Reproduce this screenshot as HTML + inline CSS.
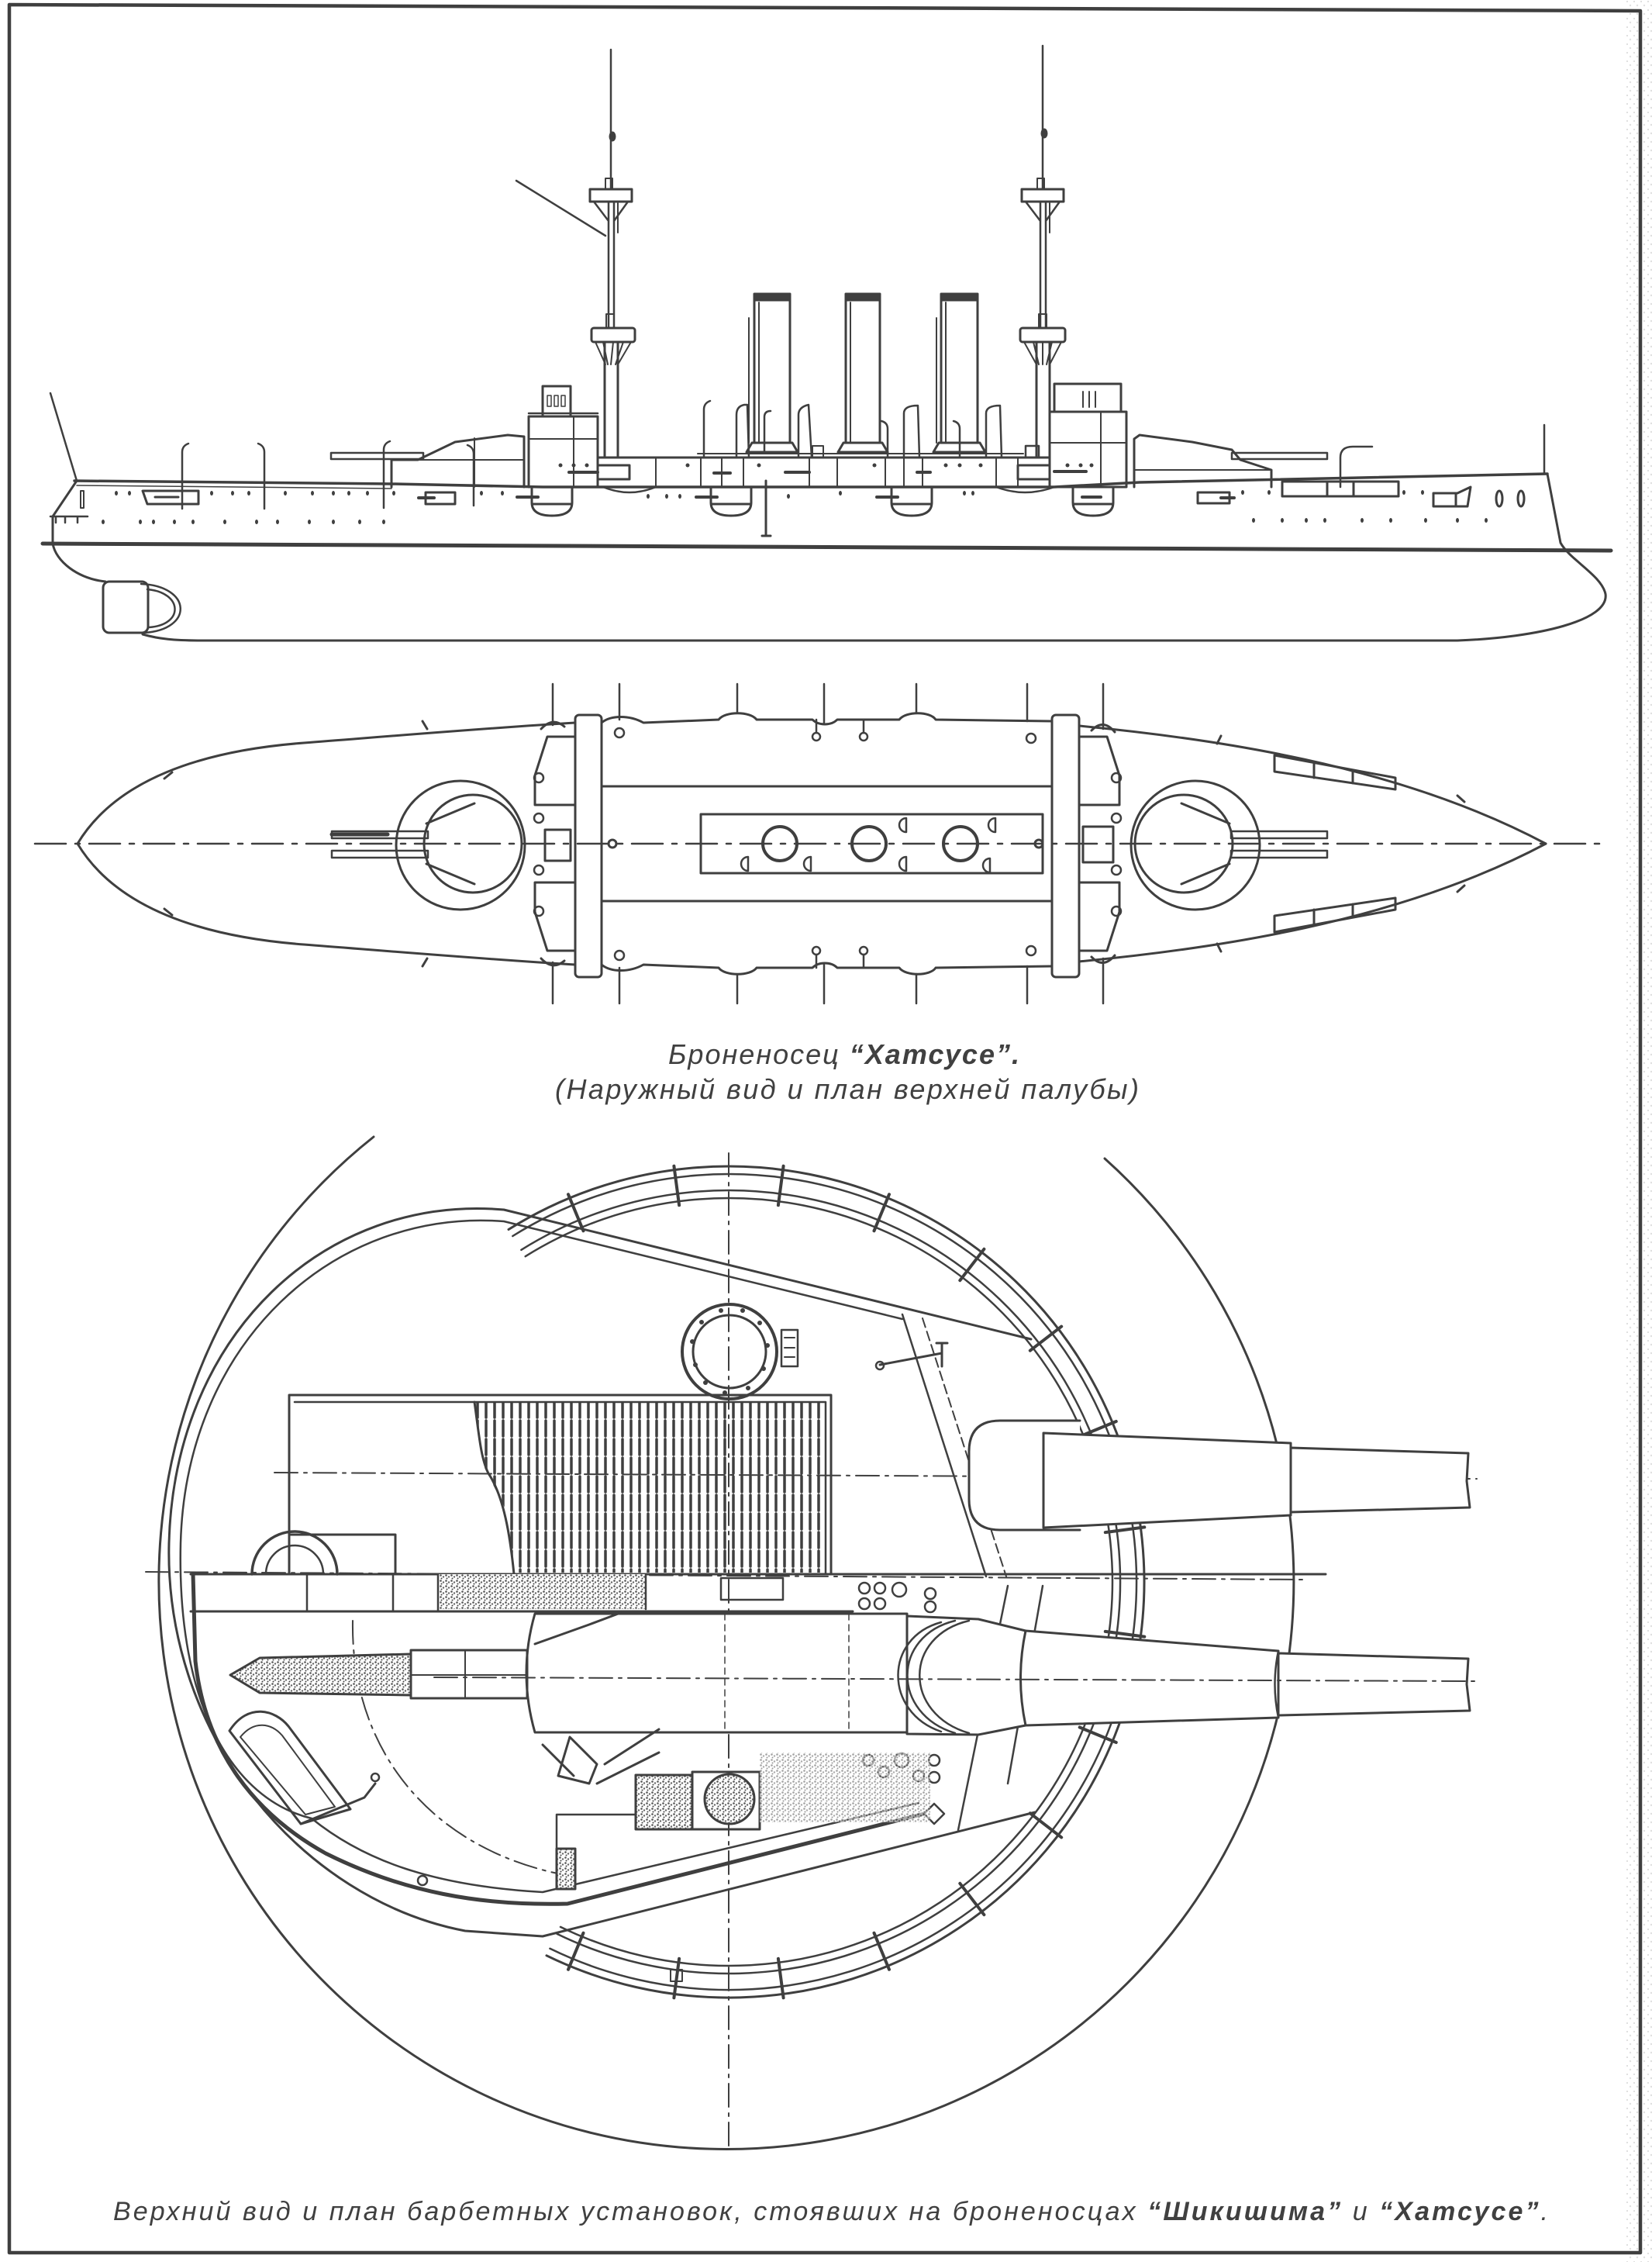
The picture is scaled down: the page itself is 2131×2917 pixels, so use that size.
<!DOCTYPE html>
<html><head><meta charset="utf-8">
<style>
html,body{margin:0;padding:0;background:#fff;}
svg{display:block;}
text{font-family:"Liberation Sans",Arial,sans-serif;font-style:italic;fill:#404040;}
</style></head><body>
<svg width="2131" height="2917" viewBox="0 0 2131 2917" xmlns="http://www.w3.org/2000/svg">
<defs>
 <pattern id="speck" width="7" height="7" patternUnits="userSpaceOnUse">
   <rect width="7" height="7" fill="#fff"/>
   <circle cx="1.5" cy="1.5" r="1.3" fill="#555"/>
   <circle cx="5" cy="3.5" r="1.2" fill="#666"/>
   <circle cx="2.5" cy="5.5" r="1" fill="#444"/>
 </pattern>
 <pattern id="noise" width="9" height="11" patternUnits="userSpaceOnUse">
   <rect width="9" height="11" fill="#fff"/>
   <circle cx="2" cy="2" r="1" fill="#bbb"/>
   <circle cx="6" cy="7" r="1.2" fill="#ccc"/>
 </pattern>
 <clipPath id="hatchclip">
   <polygon points="612,1808 1066,1808 1066,2028 663,2028 654,1950 622,1887"/>
 </clipPath>
</defs>
<rect width="2131" height="2917" fill="#fff"/>
<rect x="2096" y="0" width="35" height="2917" fill="url(#noise)" opacity="0.6"/>

<g fill="none" stroke="#3f3f3f" stroke-width="3" stroke-linejoin="round" stroke-linecap="round">
<!-- frame -->
<path d="M12,6 L2116,14 L2116,2905 L12,2905 Z" stroke-width="4.5"/>

<!-- ================= SIDE VIEW ================= -->
<path d="M788,64 L788,244 M1345,59 L1345,244" stroke-width="2.5"/>
<rect x="761" y="244" width="54" height="16"/>
<rect x="781" y="230" width="9" height="14" stroke-width="2"/>
<rect x="1318" y="244" width="54" height="16"/>
<rect x="1338" y="230" width="9" height="14" stroke-width="2"/>
<path d="M766,260 L785,285 M810,260 L792,285 M785,260 L785,423 M792,260 L792,423" stroke-width="2.5"/>
<path d="M1323,260 L1342,285 M1367,260 L1349,285 M1342,260 L1342,423 M1349,260 L1349,423" stroke-width="2.5"/>
<path d="M797,262 L797,300 M1354,262 L1354,300" stroke-width="2"/>
<rect x="763" y="423" width="56" height="18" rx="3"/>
<rect x="1316" y="423" width="58" height="18" rx="3"/>
<path d="M768,441 L781,470 M778,441 L784,470 M791,441 L788,470 M804,441 L794,470 M814,441 L797,470" stroke-width="2"/>
<path d="M1321,441 L1337,470 M1333,441 L1340,470 M1345,441 L1345,470 M1357,441 L1350,470 M1369,441 L1354,470" stroke-width="2"/>
<path d="M780,441 L780,590 M797,441 L797,590 M1337,441 L1337,590 M1354,441 L1354,590"/>
<path d="M666,233 L781,304" stroke-width="2.5"/>
<ellipse cx="790" cy="176" rx="3" ry="5" fill="#3f3f3f"/>
<ellipse cx="1347" cy="172" rx="3" ry="5" fill="#3f3f3f"/>
<rect x="782" y="405" width="10" height="18" stroke-width="2"/>
<rect x="1340" y="405" width="10" height="18" stroke-width="2"/>

<!-- funnels -->
<rect x="973" y="383" width="46" height="188"/>
<rect x="973" y="379" width="46" height="8" fill="#3f3f3f"/>
<path d="M963,583 L1029,583 L1022,571 L970,571 Z"/>
<path d="M966,410 L966,571 M979,390 L979,571" stroke-width="2"/>
<rect x="1091" y="383" width="44" height="188"/>
<rect x="1091" y="379" width="44" height="8" fill="#3f3f3f"/>
<path d="M1081,583 L1145,583 L1138,571 L1088,571 Z"/>
<path d="M1097,390 L1097,571" stroke-width="2"/>
<rect x="1214" y="383" width="47" height="188"/>
<rect x="1214" y="379" width="47" height="8" fill="#3f3f3f"/>
<path d="M1204,583 L1271,583 L1264,571 L1211,571 Z"/>
<path d="M1208,410 L1208,571 M1220,390 L1220,571" stroke-width="2"/>
<rect x="1048" y="575" width="14" height="15" stroke-width="2"/>

<!-- cowls / ventilators -->
<path stroke-width="2.5" d="
M235,656 L235,583 Q235,575 243,572
M341,656 L341,583 Q341,575 333,572
M495,655 L495,580 Q495,572 503,569
M611,652 L611,585 Q611,577 603,574
M908,590 L908,528 Q908,520 916,517
M950,590 L950,535 Q950,524 960,522 L964,522 L966,590
M986,583 L986,538 Q986,530 994,530
M1030,590 L1030,535 Q1030,525 1043,522 L1047,590
M1145,590 L1145,553 Q1145,545 1137,543
M1166,590 L1166,533 Q1166,523 1184,523 L1186,590
M1238,590 L1238,553 Q1238,545 1230,543
M1272,590 L1272,533 Q1272,523 1290,523 L1292,590
M1729,628 L1729,590 Q1729,576 1745,576 L1770,576
M1323,590 L1323,575 L1340,575 L1340,590"/>

<!-- superstructure -->
<rect x="771" y="590" width="583" height="38"/>
<path d="M900,585 L1320,585" stroke-width="2"/>
<path d="M846,590 V628 M904,590 V628 M931,590 V628 M959,590 V628 M1044,590 V628 M1080,590 V628 M1142,590 V628 M1166,590 V628 M1190,590 V628 M1285,590 V628 M1313,590 V628" stroke-width="2"/>
<rect x="682" y="537" width="89" height="91"/>
<path d="M682,566 L771,566" stroke-width="2"/>
<path d="M740,537 V628" stroke-width="2"/>
<rect x="700" y="498" width="36" height="39"/>
<rect x="706" y="510" width="5" height="14" stroke-width="1.5"/>
<rect x="715" y="510" width="5" height="14" stroke-width="1.5"/>
<rect x="724" y="510" width="5" height="14" stroke-width="1.5"/>
<path d="M682,533 L771,533" stroke-width="2.5"/>
<rect x="771" y="600" width="41" height="18"/>
<path d="M734,609 L771,609" stroke-width="4"/>
<rect x="1354" y="531" width="99" height="97"/>
<path d="M1354,571 L1453,571 M1420,531 V628" stroke-width="2"/>
<rect x="1360" y="495" width="86" height="36"/>
<path d="M1397,505 V525 M1405,505 V525 M1413,505 V525" stroke-width="2"/>
<rect x="1313" y="600" width="41" height="18"/>
<path d="M1360,608 L1401,608" stroke-width="4"/>
<path d="M921,610 L942,610 M1013,609 L1044,609 M1183,609 L1200,609" stroke-width="4"/>

<!-- turrets (side) -->
<path d="M505,628 L505,593 L539,593 L587,570 L655,561 L676,563 L676,628"/>
<path d="M539,593 L676,593 M612,565 L612,628" stroke-width="2"/>
<rect x="427" y="584" width="119" height="8" stroke-width="2.5"/>
<path d="M1463,628 L1463,566 L1470,561 L1538,570 L1589,580 L1600,593 L1640,606 L1640,628"/>
<path d="M1463,606 L1640,606" stroke-width="2"/>
<rect x="1589" y="584" width="123" height="8" stroke-width="2.5"/>

<!-- hull -->
<path d="M96,620 L505,624 L700,628 L1360,628 L1470,622 L1996,611" stroke-width="3.5"/>
<path d="M99,626 L505,630" stroke-width="1.5"/>
<path d="M99,620 L68,666 L68,701 C72,724 100,746 136,750"/>
<rect x="133" y="750" width="58" height="66" rx="8"/>
<path d="M182,753 C248,756 250,812 186,816 M190,760 C236,764 238,806 192,809" stroke-width="2.5"/>
<path d="M184,818 C205,824 225,826 260,826 L1880,826 C1985,822 2076,800 2071,766 C2066,742 2025,722 2013,700 L1996,611"/>
<path d="M55,701 L2078,710" stroke-width="5"/>
<path d="M99,620 L65,507" stroke-width="2.5"/>
<path d="M1992,611 L1992,548" stroke-width="2.5"/>

<!-- sponsons -->
<path d="M686,630 L686,648 Q686,665 712,665 Q738,665 738,648 L738,630 M688,650 L736,650"/>
<path d="M917,630 L917,648 Q917,665 943,665 Q969,665 969,648 L969,630 M919,650 L967,650"/>
<path d="M1150,630 L1150,648 Q1150,665 1176,665 Q1202,665 1202,648 L1202,630 M1152,650 L1200,650"/>
<path d="M1384,630 L1384,648 Q1384,665 1410,665 Q1436,665 1436,648 L1436,630 M1386,650 L1434,650"/>
<path d="M667,641 L694,641 M898,641 L925,641 M1131,641 L1158,641 M1396,641 L1420,641" stroke-width="4"/>
<path d="M778,628 Q812,642 846,628 M1285,628 Q1322,642 1360,628" stroke-width="2.5"/>
<path d="M988,620 L988,691 M983,691 L994,691" stroke-width="3"/>

<!-- hull ports -->
<path d="M184,633 L256,633 L256,650 L190,650 Z M200,641 L230,641"/>
<rect x="549" y="635" width="38" height="15"/>
<path d="M540,642 L560,642" stroke-width="4"/>
<rect x="1545" y="635" width="41" height="14"/>
<path d="M1575,642 L1592,642" stroke-width="4"/>
<path d="M1849,636 L1880,636 L1897,628 L1893,653 L1849,653 Z M1878,636 L1878,653"/>
<rect x="1654" y="621" width="150" height="19"/>
<path d="M1712,621 V640 M1746,621 V640"/>
<ellipse cx="1934" cy="643" rx="4" ry="10"/>
<ellipse cx="1962" cy="643" rx="4" ry="10"/>
<rect x="104" y="633" width="4" height="22" stroke-width="2"/>
<path d="M65,666 L113,666 M72,666 V674 M84,666 V674 M100,666 V674" stroke-width="2.5"/>
</g>

<!-- portholes -->
<g fill="#3f3f3f">
<ellipse cx="150" cy="636" rx="2" ry="3"/><ellipse cx="167" cy="636" rx="2" ry="3"/><ellipse cx="273" cy="636" rx="2" ry="3"/><ellipse cx="300" cy="636" rx="2" ry="3"/><ellipse cx="321" cy="636" rx="2" ry="3"/><ellipse cx="368" cy="636" rx="2" ry="3"/><ellipse cx="403" cy="636" rx="2" ry="3"/><ellipse cx="430" cy="636" rx="2" ry="3"/><ellipse cx="450" cy="636" rx="2" ry="3"/><ellipse cx="474" cy="636" rx="2" ry="3"/><ellipse cx="508" cy="636" rx="2" ry="3"/><ellipse cx="621" cy="636" rx="2" ry="3"/><ellipse cx="648" cy="636" rx="2" ry="3"/><ellipse cx="836" cy="640" rx="2" ry="3"/><ellipse cx="860" cy="640" rx="2" ry="3"/><ellipse cx="877" cy="640" rx="2" ry="3"/><ellipse cx="1017" cy="640" rx="2" ry="3"/><ellipse cx="1084" cy="636" rx="2" ry="3"/><ellipse cx="1244" cy="636" rx="2" ry="3"/><ellipse cx="1255" cy="636" rx="2" ry="3"/><ellipse cx="1603" cy="635" rx="2" ry="3"/><ellipse cx="1637" cy="635" rx="2" ry="3"/><ellipse cx="1811" cy="635" rx="2" ry="3"/><ellipse cx="1835" cy="635" rx="2" ry="3"/>
<ellipse cx="133" cy="673" rx="2" ry="3"/><ellipse cx="181" cy="673" rx="2" ry="3"/><ellipse cx="198" cy="673" rx="2" ry="3"/><ellipse cx="225" cy="673" rx="2" ry="3"/><ellipse cx="249" cy="673" rx="2" ry="3"/><ellipse cx="290" cy="673" rx="2" ry="3"/><ellipse cx="331" cy="673" rx="2" ry="3"/><ellipse cx="358" cy="673" rx="2" ry="3"/><ellipse cx="399" cy="673" rx="2" ry="3"/><ellipse cx="430" cy="673" rx="2" ry="3"/><ellipse cx="464" cy="673" rx="2" ry="3"/><ellipse cx="495" cy="673" rx="2" ry="3"/><ellipse cx="1617" cy="671" rx="2" ry="3"/><ellipse cx="1654" cy="671" rx="2" ry="3"/><ellipse cx="1685" cy="671" rx="2" ry="3"/><ellipse cx="1709" cy="671" rx="2" ry="3"/><ellipse cx="1757" cy="671" rx="2" ry="3"/><ellipse cx="1794" cy="671" rx="2" ry="3"/><ellipse cx="1839" cy="671" rx="2" ry="3"/><ellipse cx="1880" cy="671" rx="2" ry="3"/><ellipse cx="1917" cy="671" rx="2" ry="3"/>
<circle cx="723" cy="600" r="2.5"/><circle cx="740" cy="600" r="2.5"/><circle cx="757" cy="600" r="2.5"/><circle cx="887" cy="600" r="2.5"/><circle cx="979" cy="600" r="2.5"/><circle cx="1128" cy="600" r="2.5"/><circle cx="1220" cy="600" r="2.5"/><circle cx="1238" cy="600" r="2.5"/><circle cx="1265" cy="600" r="2.5"/><circle cx="1377" cy="600" r="2.5"/><circle cx="1394" cy="600" r="2.5"/><circle cx="1408" cy="600" r="2.5"/>
</g>

<g fill="none" stroke="#3f3f3f" stroke-width="3" stroke-linejoin="round" stroke-linecap="round">
<!-- ================= PLAN VIEW ================= -->
<path d="M45,1088 L2075,1088" stroke-width="2.5" stroke-dasharray="40 12 6 12"/>
<path d="M100,1088 C150,1005 260,968 392,958 C520,948 640,938 742,932"/>
<path d="M100,1088 C150,1171 260,1208 392,1218 C520,1228 640,1238 742,1244"/>
<path d="M1392,936 C1560,952 1800,985 1994,1088"/>
<path d="M1392,1240 C1560,1224 1800,1191 1994,1088"/>
<path d="M776,932 C788,922 812,922 830,932 L927,928 C935,917 968,917 976,928 L1048,928 C1056,936 1072,936 1080,928 L1160,928 C1168,917 1200,917 1207,928 L1357,930"/>
<path d="M776,1244 C788,1254 812,1254 830,1244 L927,1248 C935,1259 968,1259 976,1248 L1048,1248 C1056,1240 1072,1240 1080,1248 L1160,1248 C1168,1259 1200,1259 1207,1248 L1357,1246"/>
<path d="M713,882 V935 M799,882 V928 M951,882 V919 M1063,882 V932 M1182,882 V919 M1325,882 V930 M1423,882 V940 M713,1241 V1294 M799,1248 V1294 M951,1257 V1294 M1063,1244 V1294 M1182,1257 V1294 M1325,1246 V1294 M1423,1236 V1294" stroke-width="2.5"/>
<path d="M698,940 Q713,924 728,937 M1408,942 Q1423,926 1438,944 M698,1236 Q713,1252 728,1239 M1408,1234 Q1423,1250 1438,1232" stroke-width="3"/>
<rect x="742" y="922" width="34" height="338" rx="5"/>
<rect x="1357" y="922" width="35" height="338" rx="5"/>
<path d="M776,1014 L1357,1014 M776,1162 L1357,1162"/>
<rect x="904" y="1050" width="441" height="76"/>
<circle cx="1006" cy="1088" r="22" stroke-width="4"/>
<circle cx="1121" cy="1088" r="22" stroke-width="4"/>
<circle cx="1239" cy="1088" r="22" stroke-width="4"/>
<path d="M965,1105 A9,9 0 0 0 965,1123 Z M1046,1105 A9,9 0 0 0 1046,1123 Z M1169,1055 A9,9 0 0 0 1169,1073 Z M1169,1105 A9,9 0 0 0 1169,1123 Z M1284,1055 A9,9 0 0 0 1284,1073 Z M1277,1107 A9,9 0 0 0 1277,1125 Z" stroke-width="2.5"/>
<path d="M742,950 L706,950 L690,1000 L690,1038 L742,1038"/>
<path d="M742,1226 L706,1226 L690,1176 L690,1138 L742,1138"/>
<rect x="703" y="1070" width="33" height="40"/>
<path d="M1392,950 L1428,950 L1444,1000 L1444,1038 L1392,1038"/>
<path d="M1392,1226 L1428,1226 L1444,1176 L1444,1138 L1392,1138"/>
<rect x="1397" y="1066" width="39" height="46"/>
<circle cx="790" cy="1088" r="5"/>
<circle cx="1340" cy="1088" r="5"/>
<g stroke-width="2.5">
<circle cx="695" cy="1003" r="6"/><circle cx="695" cy="1055" r="6"/><circle cx="695" cy="1122" r="6"/><circle cx="695" cy="1175" r="6"/>
<circle cx="1440" cy="1003" r="6"/><circle cx="1440" cy="1055" r="6"/><circle cx="1440" cy="1122" r="6"/><circle cx="1440" cy="1175" r="6"/>
<circle cx="799" cy="945" r="6"/><circle cx="799" cy="1232" r="6"/><circle cx="1330" cy="952" r="6"/><circle cx="1330" cy="1226" r="6"/>
<circle cx="1053" cy="950" r="5"/><circle cx="1114" cy="950" r="5"/><circle cx="1053" cy="1226" r="5"/><circle cx="1114" cy="1226" r="5"/>
<path d="M1053,928 V945 M1114,928 V945 M1053,1231 V1248 M1114,1231 V1248"/>
</g>
<path d="M551,940 L545,930 M212,1004 L222,996 M212,1172 L222,1180 M551,1236 L545,1246 M1570,959 L1575,949 M1889,1034 L1880,1026 M1889,1142 L1880,1150 M1570,1217 L1575,1227" stroke-width="3"/>
<path d="M1644,974 L1800,1003 L1800,1018 L1644,995 Z M1695,984 L1695,1003 M1745,993 L1745,1010"/>
<path d="M1644,1202 L1800,1173 L1800,1158 L1644,1181 Z M1695,1192 L1695,1173 M1745,1183 L1745,1166"/>
<circle cx="594" cy="1090" r="83"/>
<circle cx="610" cy="1088" r="63"/>
<path d="M550,1062 L612,1036 M550,1114 L612,1140"/>
<rect x="428" y="1072" width="124" height="9" stroke-width="2.5"/>
<rect x="428" y="1097" width="124" height="9" stroke-width="2.5"/>
<path d="M428,1076 L500,1076" stroke-width="5"/>
<circle cx="1542" cy="1090" r="83"/>
<circle cx="1527" cy="1088" r="63"/>
<path d="M1586,1062 L1524,1036 M1586,1114 L1524,1140"/>
<rect x="1588" y="1072" width="124" height="9" stroke-width="2.5"/>
<rect x="1588" y="1097" width="124" height="9" stroke-width="2.5"/>

<!-- ================= BARBETTE ================= -->
<path d="M482,1466 A732,732 0 1 0 1425,1494" stroke-width="3"/>
<path d="M656,1585.5 A536,536 0 1 1 705,2521.8" stroke-width="3"/>
<path d="M661.3,1594 A526,526 0 1 1 709.4,2512.8" stroke-width="2.5"/>
<path d="M672.4,1611.8 A505,505 0 1 1 718.6,2493.9" stroke-width="2.5"/>
<path d="M677.7,1620.2 A495,495 0 1 1 723,2484.9" stroke-width="2.5"/>
<path stroke-width="4" d="
M752.5,1587.3 L733,1540.2 M876.1,1554.2 L869.4,1503.7 M1003.9,1554.2 L1010.6,1503.7
M1127.5,1587.3 L1147,1540.2 M1238.3,1651.2 L1269.4,1610.8 M1328.8,1741.7 L1369.2,1710.6
M1392.7,1852.5 L1439.8,1833 M1425.8,1976.1 L1476.3,1969.4 M1425.8,2103.9 L1476.3,2110.6
M1392.7,2227.5 L1439.8,2247 M1328.8,2338.3 L1369.2,2369.4 M1238.3,2428.8 L1269.4,2469.2
M1127.5,2492.7 L1147,2539.8 M1003.9,2525.8 L1010.6,2576.3 M876.1,2525.8 L869.4,2576.3
M752.5,2492.7 L733,2539.8"/>
<path d="M940,1487 L940,2775" stroke-width="2" stroke-dasharray="30 8 4 8"/>
<path d="M188,2027 L1681,2037" stroke-width="2" stroke-dasharray="30 8 4 8"/>
<path d="M1330,1727 L650,1560 C420,1540 225,1720 218,1990 C212,2240 390,2450 600,2490 L700,2497 L1335,2337"/>
<path d="M1164,1701 L650,1575 C432,1558 240,1730 233,1990 C228,2200 300,2320 402,2345 C470,2400 560,2432 700,2440 L1185,2325" stroke-width="2.5"/>
<path d="M249,2030 L252,2142 C265,2260 330,2340 420,2390 C520,2440 620,2458 732,2455 L1192,2339" stroke-width="5"/>
<path d="M1164,1695 L1272,2033" stroke-width="2.5"/>
<path d="M1190,1700 L1298,2033" stroke-width="2" stroke-dasharray="12 6"/>
<path d="M1300,2045 L1236,2360 M1345,2045 L1300,2300" stroke-width="2.5"/>
<path d="M455,2090 C452,2260 560,2390 740,2420" stroke-width="2" stroke-dasharray="30 8 4 8"/>
<path d="M1192,2339 L1205,2352 L1218,2339 L1205,2326 Z" stroke-width="2.5"/>
<circle cx="941" cy="1743" r="61" stroke-width="4"/>
<circle cx="941" cy="1743" r="47" stroke-width="3"/>
<g fill="#3f3f3f" stroke="none">
<circle cx="893" cy="1730" r="3"/><circle cx="897" cy="1760" r="3"/><circle cx="910" cy="1783" r="3"/><circle cx="935" cy="1796" r="3"/><circle cx="905" cy="1705" r="3"/><circle cx="930" cy="1690" r="3"/><circle cx="958" cy="1690" r="3"/><circle cx="980" cy="1706" r="3"/><circle cx="990" cy="1735" r="3"/><circle cx="985" cy="1765" r="3"/><circle cx="965" cy="1790" r="3"/>
</g>
<rect x="1008" y="1715" width="21" height="47" stroke-width="2.5"/>
<path d="M1012,1725 H1025 M1012,1738 H1025 M1012,1750 H1025" stroke-width="2"/>
<path d="M1135,1760 L1215,1745 M1215,1732 L1215,1762 M1208,1732 L1222,1732" stroke-width="3"/>
<circle cx="1135" cy="1761" r="5" stroke-width="2.5"/>
<rect x="373" y="1799" width="699" height="231"/>
<path d="M380,1808 L1065,1808 L1065,2030" stroke-width="2.5"/>
<g clip-path="url(#hatchclip)" stroke-width="3.5" stroke-dasharray="20 4">
<path d="M616,1808V2028 M627,1808V2028 M638,1808V2028 M649,1808V2028 M660,1808V2028 M671,1808V2028 M682,1808V2028 M693,1808V2028 M704,1808V2028 M715,1808V2028 M726,1808V2028 M737,1808V2028 M748,1808V2028 M759,1808V2028 M770,1808V2028 M781,1808V2028 M792,1808V2028 M803,1808V2028 M814,1808V2028 M825,1808V2028 M836,1808V2028 M847,1808V2028 M858,1808V2028 M869,1808V2028 M880,1808V2028 M891,1808V2028 M902,1808V2028 M913,1808V2028 M924,1808V2028 M935,1808V2028 M946,1808V2028 M957,1808V2028 M968,1808V2028 M979,1808V2028 M990,1808V2028 M1001,1808V2028 M1012,1808V2028 M1023,1808V2028 M1034,1808V2028 M1045,1808V2028 M1056,1808V2028"/>
</g>
<path d="M612,1808 C618,1850 620,1880 630,1900 C650,1930 658,1980 663,2030" stroke-width="3"/>
<path d="M354,1899 L1905,1907" stroke-width="2" stroke-dasharray="30 8 4 8"/>
<rect x="373" y="1979" width="137" height="51"/>
<path d="M325,2030 A55,55 0 0 1 435,2030" stroke-width="3.5"/>
<path d="M343,2030 A37,37 0 0 1 417,2030" stroke-width="2.5"/>
<path d="M246,2030 L1710,2030 M246,2078 L1100,2078" stroke-width="3"/>
<rect x="565" y="2030" width="268" height="45" fill="url(#speck)" stroke="none"/>
<path d="M396,2030 V2078 M507,2030 V2078 M565,2030 V2078 M833,2030 V2075" stroke-width="2.5"/>
<rect x="930" y="2035" width="80" height="28" stroke-width="2.5"/>
<g stroke-width="2.5">
<circle cx="1115" cy="2048" r="7"/><circle cx="1135" cy="2048" r="7"/><circle cx="1160" cy="2050" r="9"/><circle cx="1115" cy="2068" r="7"/><circle cx="1135" cy="2068" r="7"/><circle cx="1200" cy="2055" r="7"/><circle cx="1200" cy="2072" r="7"/>
<circle cx="1120" cy="2270" r="7"/><circle cx="1140" cy="2285" r="7"/><circle cx="1163" cy="2270" r="9"/><circle cx="1185" cy="2290" r="7"/><circle cx="1205" cy="2270" r="7"/><circle cx="1205" cy="2292" r="7"/>
</g>
<path d="M1393,1832 L1290,1832 Q1250,1832 1250,1872 L1250,1933 Q1250,1973 1290,1973 L1393,1973" fill="#fff"/>
<path d="M1346,1848 L1665,1861 L1665,1954 L1346,1970 Z" fill="#fff"/>
<path d="M1665,1867 L1894,1874 L1892,1910 L1896,1944 L1665,1950 Z" fill="#fff"/>
<path d="M1346,1848 L1346,1970" stroke-width="2" stroke-dasharray="6 4"/>
<path d="M690,2081 L1170,2081 L1170,2234 L690,2234 Q668,2157 690,2081 Z" fill="#fff"/>
<path d="M1170,2084 L1262,2088 L1323,2103 L1323,2225 L1262,2237 L1170,2236 Z" fill="#fff"/>
<path d="M1250,2090 C1165,2110 1165,2210 1250,2235 M1232,2090 C1150,2110 1150,2210 1232,2235 M1214,2092 C1140,2112 1140,2208 1214,2233" stroke-width="2.5"/>
<path d="M1323,2103 L1649,2129 L1649,2215 L1323,2225 Q1310,2164 1323,2103 Z" fill="#fff"/>
<path d="M1649,2132 L1894,2139 L1892,2172 L1896,2206 L1649,2212 Z" fill="#fff"/>
<path d="M1649,2129 Q1640,2172 1649,2215" stroke-width="2.5"/>
<path d="M560,2163 L1905,2168" stroke-width="2" stroke-dasharray="30 8 4 8"/>
<path d="M935,2081 V2234 M1095,2081 V2234" stroke-width="1.5" stroke-dasharray="8 6"/>
<path d="M297,2160 L335,2138 L530,2133 L530,2186 L335,2183 Z" fill="url(#speck)"/>
<rect x="530" y="2128" width="150" height="62"/>
<path d="M600,2128 V2190 M530,2160 H680" stroke-width="2"/>
<path d="M690,2120 L760,2095 L800,2080 M700,2250 L740,2290 M735,2240 L770,2275 L760,2300 L720,2290 Z" stroke-width="3"/>
<path d="M770,2300 L850,2260 M780,2275 L850,2230" stroke-width="3"/>
<rect x="820" y="2289" width="73" height="70" fill="url(#speck)"/>
<rect x="893" y="2285" width="87" height="74"/>
<circle cx="941" cy="2320" r="32" fill="url(#speck)"/>
<rect x="980" y="2260" width="220" height="90" fill="url(#speck)" opacity="0.55" stroke="none"/>
<rect x="718" y="2384" width="24" height="52" fill="url(#speck)"/>
<path d="M718,2384 L718,2340 L820,2340" stroke-width="2.5"/>
<path d="M296,2232 C320,2195 355,2205 372,2226 L452,2333 L388,2352 Z" stroke-width="3"/>
<path d="M310,2240 C328,2218 350,2222 364,2238 L432,2330 L394,2340 Z" stroke-width="2"/>
<path d="M388,2352 L470,2318 M470,2318 L484,2300" stroke-width="3"/>
<circle cx="484" cy="2292" r="5" stroke-width="2.5"/>
<circle cx="545" cy="2425" r="6" stroke-width="2.5"/>
<path d="M865,2540 L880,2540 L880,2555 L865,2555 Z" stroke-width="2"/>
</g>

<text x="862" y="1372" font-size="36" textLength="453" lengthAdjust="spacing">Броненосец <tspan font-weight="bold">“Хатсусе”.</tspan></text>
<text x="716" y="1417" font-size="36" textLength="753" lengthAdjust="spacing">(Наружный вид и план верхней палубы)</text>
<text x="146" y="2863" font-size="34" textLength="1851" lengthAdjust="spacing">Верхний вид и план барбетных установок, стоявших на броненосцах <tspan font-weight="bold">“Шикишима”</tspan> и <tspan font-weight="bold">“Хатсусе”</tspan>.</text>
</svg>
</body></html>
